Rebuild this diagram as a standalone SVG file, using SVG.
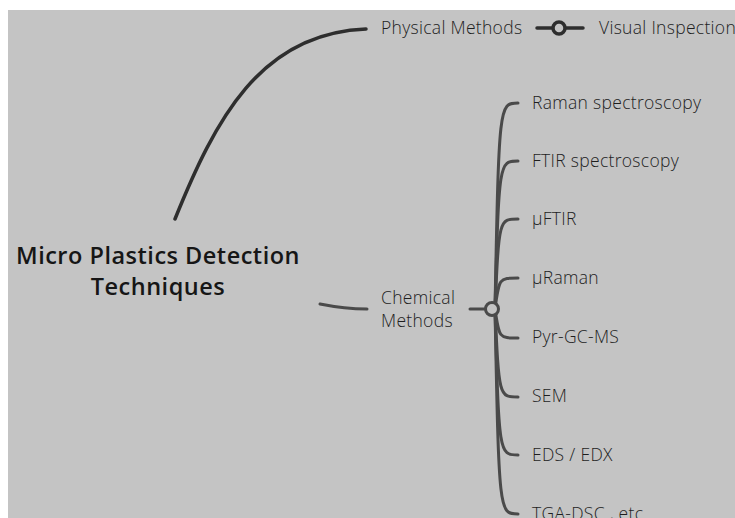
<svg xmlns="http://www.w3.org/2000/svg" width="735" height="518" viewBox="0 0 735 518">
<style>
.bg{fill:#c4c4c4}
.lbl{font-family:"Open Sans","Liberation Sans",sans-serif;font-size:17.5px;font-weight:300;letter-spacing:0.3px;fill:#1e1e1e}
.title{font-family:"Open Sans","Liberation Sans",sans-serif;font-size:23.5px;font-weight:600;letter-spacing:0.5px;fill:#161616;text-anchor:middle}
.c1{fill:none;stroke:#2e2e2e;stroke-width:3.5;stroke-linecap:round}
.c2{fill:none;stroke:#4a4a4a;stroke-width:3;stroke-linecap:round}
</style>
<rect class="bg" x="8" y="10" width="727" height="508"/>
<g id="connectors">
<path class="c1" d="M175 219 C215 120 260 33 366 29"/>
<path class="c1" d="M537 28 L583 28"/>
<circle cx="559" cy="28" r="6" fill="#c4c4c4" stroke="#2e2e2e" stroke-width="3.5"/>
<path class="c2" d="M320 304 Q345 309 367 309"/>
<path class="c2" d="M470 309 L486 309"/>
<path class="c2" d="M495 309 C499 103 499 103 518 103"/>
<path class="c2" d="M495 309 C499 161 499 161 518 161"/>
<path class="c2" d="M495 309 C499 219 499 219 518 219"/>
<path class="c2" d="M495 309 C499 278 499 278 518 278"/>
<path class="c2" d="M495 309 C499 338 499 338 518 338"/>
<path class="c2" d="M495 309 C499 397 499 397 518 397"/>
<path class="c2" d="M495 309 C499 455 499 455 518 455"/>
<path class="c2" d="M495 309 C499 514 499 514 518 514"/>
<circle cx="492" cy="309" r="6.5" fill="#c4c4c4" stroke="#4a4a4a" stroke-width="3"/>
</g>
<g id="root"><text class="title" x="158" y="264">Micro Plastics Detection</text><text class="title" x="158" y="295">Techniques</text></g>
<g id="physical"><text class="lbl" x="381" y="34">Physical Methods</text></g>
<g id="visual"><text class="lbl" x="599" y="34">Visual Inspection</text></g>
<g id="chemical"><text class="lbl" x="381" y="304">Chemical</text><text class="lbl" x="381" y="327">Methods</text></g>
<g id="raman"><text class="lbl" x="532" y="109">Raman spectroscopy</text></g>
<g id="ftir"><text class="lbl" x="532" y="167">FTIR spectroscopy</text></g>
<g id="uftir"><text class="lbl" x="532" y="225">μFTIR</text></g>
<g id="uraman"><text class="lbl" x="532" y="284">μRaman</text></g>
<g id="pyr"><text class="lbl" x="532" y="343">Pyr-GC-MS</text></g>
<g id="sem"><text class="lbl" x="532" y="402">SEM</text></g>
<g id="eds"><text class="lbl" x="532" y="461">EDS / EDX</text></g>
<g id="tga"><text class="lbl" x="532" y="520">TGA-DSC , etc</text></g>
</svg>
